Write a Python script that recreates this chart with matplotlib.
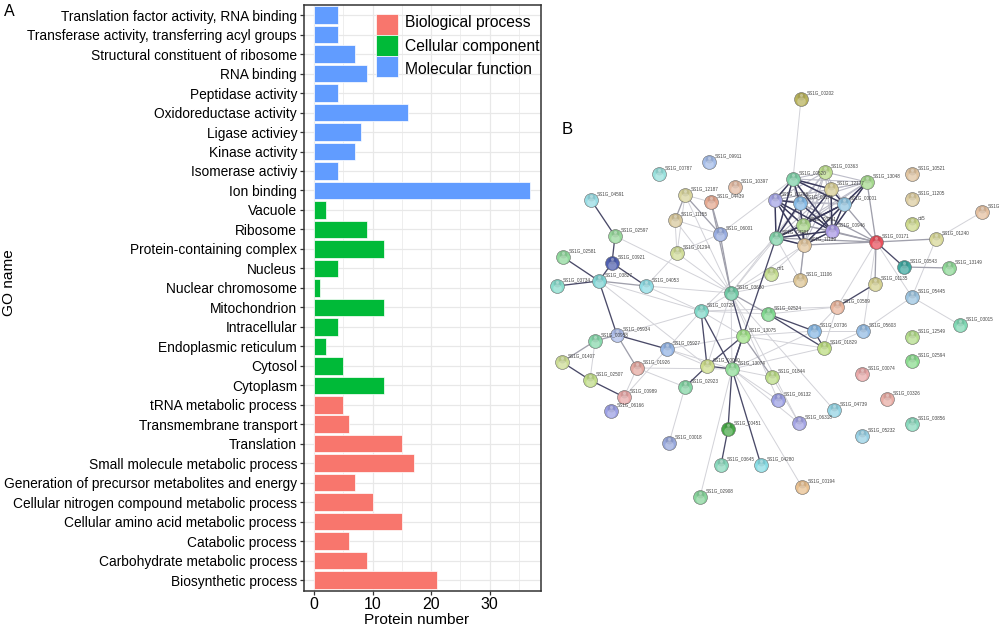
import itertools
import matplotlib
matplotlib.use("Agg")
import matplotlib.pyplot as plt
from matplotlib.patches import Patch

plt.rcParams['font.family'] = ['Liberation Sans', 'DejaVu Sans']

# ---------- bar chart data (bottom to top) ----------
go_names = ["Biosynthetic process", "Carbohydrate metabolic process", "Catabolic process",
            "Cellular amino acid metabolic process", "Cellular nitrogen compound metabolic process",
            "Generation of precursor metabolites and energy", "Small molecule metabolic process",
            "Translation", "Transmembrane transport", "tRNA metabolic process",
            "Cytoplasm", "Cytosol", "Endoplasmic reticulum", "Intracellular", "Mitochondrion",
            "Nuclear chromosome", "Nucleus", "Protein-containing complex", "Ribosome", "Vacuole",
            "Ion binding", "Isomerase activiy", "Kinase activity", "Ligase activiey",
            "Oxidoreductase activity", "Peptidase activity", "RNA binding",
            "Structural constituent of ribosome", "Transferase activity, transferring acyl groups",
            "Translation factor activity, RNA binding"]
protein_number = [21, 9, 6, 15, 10, 7, 17, 15, 6, 5,
                  12, 5, 2, 4, 12, 1, 4, 12, 9, 2,
                  37, 4, 7, 8, 16, 4, 9, 7, 4, 4]
go_class = ["BP"] * 10 + ["CC"] * 10 + ["MF"] * 10
class_names = {"BP": "Biological process", "CC": "Cellular component", "MF": "Molecular function"}
class_colors = {"BP": "#F8766D", "CC": "#00BA38", "MF": "#619CFF"}

# ---------- network data: label, picture position, colour ----------
nodes = {
    "00202": (801, 99, "#b8b25c"), "00520": (793, 179, "#7fd0a8"), "00363": (825, 172, "#bcdc8c"),
    "12177": (831, 189, "#d6cc94"), "13048": (867, 182, "#a4d88c"), "10521": (912, 174, "#e0c4a0"),
    "11205": (912, 199, "#dccca0"), "oti5": (912, 224, "#ccd88c"), "03310": (982, 212, "#e4c0a0"),
    "01240": (936, 239, "#d8d898"), "00171": (876, 242, "#e8505c"), "00543": (904, 267, "#40a8a0"),
    "13149": (949, 268, "#90d898"), "01135": (875, 284, "#d4d090"), "05445": (912, 297, "#9cc4e0"),
    "00001": (844, 204, "#90c4e0"), "00946": (832, 231, "#a898e4"), "11139": (804, 245, "#e0c49c"),
    "03288": (775, 200, "#a4a4e4"), "03175": (800, 203, "#84b8e4"), "03261": (803, 225, "#a8d488"),
    "04281": (776, 238, "#80d0a8"), "orf1": (771, 274, "#c4dc90"), "11106": (800, 280, "#dcc494"),
    "03630": (731, 293, "#70c8a4"), "06001": (720, 234, "#98ace0"), "09911": (709, 162, "#a4bce8"),
    "00787": (659, 174, "#98e0dc"), "10397": (735, 187, "#e4bca4"), "04439": (711, 202, "#e4a890"),
    "12187": (685, 195, "#d8d49c"), "11155": (675, 220, "#d8c89c"), "01294": (677, 253, "#d0dc98"),
    "04591": (591, 200, "#98dce4"), "02597": (615, 236, "#98d89c"), "02581": (563, 257, "#90d89c"),
    "00921": (612, 263, "#5060b0"), "03827": (599, 281, "#80d4d4"), "03734": (557, 286, "#88dccc"),
    "04053": (646, 286, "#90dce4"), "00729": (701, 311, "#80d8c8"), "02524": (768, 314, "#80d890"),
    "00589": (837, 307, "#e8b49c"), "00736": (814, 331, "#88b8e4"), "05603": (863, 331, "#94bce4"),
    "03015": (960, 325, "#80d8b4"), "12549": (912, 337, "#b4dc8c"), "01829": (824, 348, "#bcdc80"),
    "13075": (743, 336, "#a0e088"), "05934": (617, 335, "#acbce8"), "00958": (595, 341, "#88d8ac"),
    "05927": (667, 349, "#94b4e4"), "01407": (562, 362, "#ccdc94"), "01926": (637, 368, "#e4a8a0"),
    "00090": (707, 366, "#ccdc8c"), "13074": (732, 369, "#90dc98"), "01844": (772, 377, "#bcdc88"),
    "02594": (912, 361, "#8cdc90"), "00074": (862, 374, "#e8a8a8"), "02507": (590, 380, "#c0dc88"),
    "02923": (685, 387, "#84d4a4"), "00989": (624, 397, "#e8a8a8"), "06166": (611, 411, "#9ca0e4"),
    "06132": (778, 400, "#9ca0e4"), "06318": (799, 423, "#a4a4e4"), "04739": (834, 410, "#94d4e4"),
    "00326": (887, 399, "#e8aca4"), "03856": (912, 424, "#88d8bc"), "05232": (862, 436, "#98d0e4"),
    "00451": (728, 429, "#48a848"), "00018": (669, 443, "#98a8dc"), "03645": (721, 465, "#88d8bc"),
    "04280": (761, 465, "#88dce4"), "00194": (802, 487, "#e8c090"), "02908": (700, 497, "#88d49c"),
}
cluster = ["00520", "00363", "12177", "13048", "00001", "00946", "11139",
           "03288", "03175", "03261", "04281"]
cluster_dark = [("00520", "03288"), ("00520", "03175"), ("00520", "00001"), ("00520", "00946"),
                ("00520", "12177"), ("00520", "04281"), ("03288", "03175"), ("03288", "00946"),
                ("03288", "11139"), ("03288", "04281"), ("03288", "03261"), ("03175", "00946"),
                ("03175", "11139"), ("12177", "00001"), ("12177", "03261"), ("12177", "00946"),
                ("00001", "03261"), ("00001", "00946"), ("00001", "11139"), ("00001", "04281"),
                ("13048", "00946"), ("13048", "00001"), ("03261", "04281"), ("04281", "11139"),
                ("04281", "00946"), ("00946", "11139"), ("03261", "11139"), ("04281", "03175")]
edges_light = [("00202", "00520"), ("01240", "03310"), ("00171", "05603"), ("00171", "05445"),
               ("01240", "05445"), ("05445", "05603"), ("05445", "03015"), ("00171", "00589"),
               ("03630", "04281"), ("03630", "03175"), ("03630", "11139"), ("03630", "orf1"),
               ("03630", "11106"), ("04281", "11106"), ("11139", "orf1"), ("06001", "00520"),
               ("12187", "04439"), ("12187", "03630"), ("11155", "03630"), ("01294", "03630"),
               ("11155", "01294"), ("12187", "01294"), ("01294", "06001"), ("11155", "06001"),
               ("02597", "03630"), ("03827", "00729"), ("03827", "00090"), ("04053", "03630"),
               ("04053", "00729"), ("01294", "04053"), ("00729", "05927"), ("00729", "05934"),
               ("00729", "02524"), ("00729", "00589"), ("02524", "00589"), ("00736", "00589"),
               ("00589", "01829"), ("00736", "05603"), ("05603", "01829"), ("00736", "13075"),
               ("01829", "13075"), ("01829", "13074"), ("00736", "13074"), ("13075", "05927"),
               ("13074", "02908"), ("13074", "00194"), ("13074", "01844"), ("13074", "06132"),
               ("13074", "06318"), ("01844", "06318"), ("13074", "01926"), ("02923", "00018"),
               ("02923", "01926"), ("03630", "04739"), ("05927", "00090"), ("05927", "13074"),
               ("05927", "00989"), ("00958", "02507"), ("01926", "00989"), ("03630", "00729"),
               ("03630", "00090"), ("04281", "00729"), ("03630", "06132"), ("03630", "06318"),
               ("11106", "11139"), ("03630", "13074"), ("00729", "13075")]
edges_medium = [("00171", "00001"), ("00171", "00946"), ("00171", "11139"), ("00171", "03261"),
                ("00171", "03175"), ("00171", "04281"), ("00171", "13048"), ("00171", "01240"),
                ("00171", "01135"), ("00543", "13149"), ("12187", "11155"), ("12187", "06001"),
                ("04439", "06001"), ("04439", "03630"), ("06001", "03630"), ("03827", "04053"),
                ("13075", "01844"), ("05934", "01926"), ("05934", "00958"), ("00958", "01407"),
                ("11139", "11106"), ("03630", "02524")]
edges_dark = [("00171", "00543"), ("01135", "00589"), ("04591", "02597"), ("02597", "00921"),
              ("02581", "03827"), ("00921", "03827"), ("00921", "04053"), ("03827", "03734"),
              ("03827", "05934"), ("00729", "00090"), ("00729", "13074"), ("02524", "00736"),
              ("02524", "01829"), ("00736", "01829"), ("13075", "13074"), ("13075", "00090"),
              ("13075", "03630"), ("13074", "00090"), ("13074", "00451"), ("13074", "04280"),
              ("00090", "02923"), ("00451", "03645"), ("05927", "05934"), ("01407", "02507"),
              ("02507", "00989"), ("04281", "13074")]

fig = plt.figure(figsize=(10, 6.27), dpi=100)
W, H = 1000, 627

# ---------- panel A ----------
ax = fig.add_axes([304 / W, 1 - 591 / H, (541 - 304) / W, (591 - 5) / H])
ypos = list(range(len(go_names)))
ax.barh(ypos, protein_number, height=0.9, color=[class_colors[c] for c in go_class],
        edgecolor="#ffffff", linewidth=0.5, zorder=3)
ax.set_yticks(ypos)
ax.set_yticklabels(go_names, fontsize=9.95, color="black")
ax.set_xticks([0, 10, 20, 30])
ax.set_xticks([5, 15, 25, 35], minor=True)
ax.set_xlim(-1.75, 38.8)
ax.set_ylim(-0.56, 29.52)
ax.grid(True, which="major", color="#e8e8e8", linewidth=0.9, zorder=0)
ax.grid(True, which="minor", axis="x", color="#eeeeee", linewidth=0.7, zorder=0)
ax.set_axisbelow(True)
ax.tick_params(axis="y", length=3, width=0.9, color="#333333", pad=2)
ax.tick_params(axis="x", which="major", length=3, width=0.9, color="#333333", labelsize=11.5, pad=1)
ax.tick_params(axis="x", which="minor", length=0)
for s in ax.spines.values():
    s.set_color("#333333")
    s.set_linewidth(1.1)
ax.set_xlabel("Protein number", fontsize=11.1, labelpad=0)
ax.xaxis.set_label_coords((417 - 304) / (541 - 304), -0.0495, transform=ax.transAxes)
ax.xaxis.label.set_va("center")

handles = [Patch(facecolor=class_colors[k], edgecolor="#ffffff", linewidth=0.5, label=class_names[k])
           for k in class_names]
leg = ax.legend(handles=handles, loc="upper left", bbox_to_anchor=(0.267, 1.0), frameon=False,
                fontsize=11.25, handlelength=1.4, handleheight=1.7, labelspacing=0.0,
                handletextpad=0.45, borderaxespad=0.0, borderpad=0.55)
# The reference's labels are spread a little wider than its swatches.
for t, dy in zip(leg.get_texts(), [2.2, -0.7, -2.9]):
    t.set_position((0, dy))

fig.text(9 / W, 1 - 283 / H, "GO name", rotation=90, fontsize=11.1, ha="center", va="center")
fig.text(4 / W, 1 - 11 / H, "A", fontsize=11.5, ha="left", va="center")
fig.text(562 / W, 1 - 130 / H, "B", fontsize=12, ha="left", va="center")

# ---------- panel B ----------
net = fig.add_axes([0, 0, 1, 1], facecolor="none")
net.set_xlim(0, W)
net.set_ylim(H, 0)
net.axis("off")


def draw_edges(pairs, color, lw, z):
    for a, b in pairs:
        net.plot([nodes[a][0], nodes[b][0]], [nodes[a][1], nodes[b][1]],
                 color=color, lw=lw, zorder=z, solid_capstyle="round")


draw_edges(itertools.combinations(cluster, 2), "#bcbcc8", 0.8, 1)
draw_edges(edges_light, "#d2d2d8", 0.7, 1)
draw_edges(edges_medium, "#a0a0ac", 0.95, 2)
draw_edges(edges_dark, "#4a4a68", 0.95, 3)
draw_edges(cluster_dark, "#3a3a5c", 1.05, 3)

for name, (x, y, col) in nodes.items():
    net.scatter([x], [y], s=100, color=col, edgecolors="#6a6a6a", linewidths=0.4, zorder=5)
    net.scatter([x], [y - 3.0], s=32, color="#000000", alpha=0.10, linewidths=0, zorder=6)
    net.scatter([x], [y + 2.4], s=38, color="#ffffff", alpha=0.28, linewidths=0, zorder=6)
    net.scatter([x], [y - 3.6], s=5, color="#ffffff", alpha=0.35, linewidths=0, zorder=7)
    if name == "03310":
        label = "SS1G"
    elif name in ("orf1", "oti5"):
        label = name
    else:
        label = "SS1G_" + name
    net.text(x + 6, y - 6, label, fontsize=3.3, color="#444444", ha="left", va="center", zorder=8)

fig.savefig("out.png", dpi=100)
